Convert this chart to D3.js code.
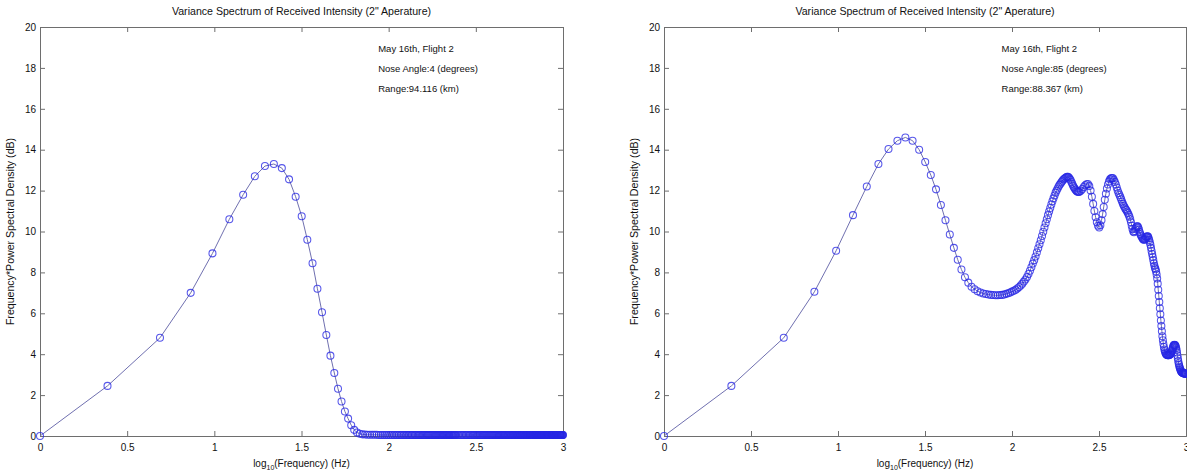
<!DOCTYPE html>
<html>
<head>
<meta charset="utf-8">
<script src="https://cdn.jsdelivr.net/npm/d3@7"></script>
<style>
  body { margin: 0; background: #fff; }
  svg { display: block; }
  text { font-family: "Liberation Sans", Arial, sans-serif; fill: #111; }
</style>
</head>
<body>
<svg id="chart" width="1187" height="473"></svg>
<script>
// spectrum bins: 410 bins over 0..1000 Hz, every bin to 100 then every other one
var binHz = 1000 / 410;
var bins = d3.range(1, 101).concat(d3.range(102, 411, 2));

var xTicks = [0, 0.5, 1, 1.5, 2, 2.5, 3];
var yTicks = [0, 2, 4, 6, 8, 10, 12, 14, 16, 18, 20];

var titleText = "Variance Spectrum of Received Intensity (2\" Aperature)";
var yLabelText = "Frequency*Power Spectral Density (dB)";

var notesNose4 = ["May 16th, Flight 2", "Nose Angle:4 (degrees)", "Range:94.116 (km)"];
var notesNose85 = ["May 16th, Flight 2", "Nose Angle:85 (degrees)", "Range:88.367 (km)"];

// f*PSD (dB): first value is the 1 Hz point, then one value per entry of bins
var psdNose4 = [0,
  2.45, 4.8, 7.0, 8.93, 10.6, 11.8, 12.7, 13.2, 13.3, 13.1,
  12.55, 11.7, 10.75, 9.6, 8.45, 7.2, 6.05, 4.94, 3.93, 3.08,
  2.31, 1.69, 1.2, 0.85, 0.53, 0.3, 0.17, 0.11, 0.08, 0.07,
  0.06, 0.06, 0.06, 0.06, 0.06, 0.05, 0.05, 0.05, 0.05, 0.05,
  0.05, 0.05, 0.05, 0.05, 0.05, 0.05, 0.05, 0.05, 0.05, 0.05,
  0.05, 0.05, 0.05, 0.05, 0.05, 0.05, 0.05, 0.05, 0.05, 0.05,
  0.05, 0.05, 0.05, 0.05, 0.05, 0.05, 0.05, 0.05, 0.05, 0.05,
  0.05, 0.05, 0.05, 0.05, 0.05, 0.05, 0.05, 0.05, 0.05, 0.05,
  0.05, 0.05, 0.05, 0.05, 0.05, 0.05, 0.05, 0.05, 0.05, 0.05,
  0.05, 0.05, 0.05, 0.05, 0.05, 0.05, 0.05, 0.05, 0.05, 0.05,
  // every other bin from 102
  0.05, 0.05, 0.05, 0.05, 0.05, 0.05, 0.05, 0.05, 0.05, 0.05,
  0.05, 0.05, 0.05, 0.05, 0.05, 0.05, 0.05, 0.05, 0.05, 0.05,
  0.05, 0.05, 0.05, 0.05, 0.05, 0.05, 0.05, 0.05, 0.05, 0.05,
  0.05, 0.05, 0.05, 0.05, 0.05, 0.05, 0.05, 0.05, 0.05, 0.05,
  0.05, 0.05, 0.05, 0.05, 0.05, 0.05, 0.05, 0.05, 0.05, 0.05,
  0.05, 0.05, 0.05, 0.05, 0.05, 0.05, 0.05, 0.05, 0.05, 0.05,
  0.05, 0.05, 0.05, 0.05, 0.05, 0.05, 0.05, 0.05, 0.05, 0.05,
  0.05, 0.05, 0.05, 0.05, 0.05, 0.05, 0.05, 0.05, 0.05, 0.05,
  0.05, 0.05, 0.05, 0.05, 0.05, 0.05, 0.05, 0.05, 0.05, 0.05,
  0.05, 0.05, 0.05, 0.05, 0.05, 0.05, 0.05, 0.05, 0.05, 0.05,
  0.05, 0.05, 0.05, 0.05, 0.05, 0.05, 0.05, 0.05, 0.05, 0.05,
  0.05, 0.05, 0.05, 0.05, 0.05, 0.05, 0.05, 0.05, 0.05, 0.05,
  0.05, 0.05, 0.05, 0.05, 0.05, 0.05, 0.05, 0.05, 0.05, 0.05,
  0.05, 0.05, 0.05, 0.05, 0.05, 0.05, 0.05, 0.05, 0.05, 0.05,
  0.05, 0.05, 0.05, 0.05, 0.05, 0.05, 0.05, 0.05, 0.05, 0.05,
  0.05, 0.05, 0.05, 0.05, 0.05
];

var psdNose85 = [0,
  2.45, 4.8, 7.05, 9.06, 10.8, 12.2, 13.3, 14.03, 14.44, 14.6,
  14.44, 14.0, 13.4, 12.76, 12.06, 11.3, 10.55, 9.85, 9.2, 8.62,
  8.14, 7.76, 7.5, 7.3, 7.18, 7.08, 7.02, 6.97, 6.94, 6.92,
  6.9, 6.89, 6.88, 6.88, 6.89, 6.9, 6.92, 6.95, 6.98, 7.02,
  7.06, 7.1, 7.15, 7.21, 7.28, 7.36, 7.45, 7.55, 7.65, 7.77,
  7.92, 8.08, 8.25, 8.43, 8.6, 8.78, 8.98, 9.18, 9.38, 9.57,
  9.78, 9.99, 10.2, 10.4, 10.6, 10.8, 10.98, 11.15, 11.32, 11.48,
  11.62, 11.76, 11.9, 12.0, 12.1, 12.2, 12.28, 12.35, 12.42, 12.48,
  12.54, 12.58, 12.62, 12.65, 12.67, 12.67, 12.64, 12.58, 12.52, 12.42,
  12.33, 12.24, 12.16, 12.1, 12.04, 11.99, 11.96, 11.94, 11.93, 11.94,
  // every other bin from 102
  11.99, 12.08, 12.18, 12.26, 12.31, 12.32, 12.22, 12.0, 11.7, 11.35,
  11.0, 10.7, 10.45, 10.28, 10.2, 10.3, 10.55, 10.85, 11.2, 11.55,
  11.85, 12.1, 12.3, 12.45, 12.55, 12.6, 12.62, 12.6, 12.52, 12.42,
  12.3, 12.15, 12.0, 11.88, 11.78, 11.68, 11.57, 11.45, 11.35, 11.26,
  11.18, 11.1, 11.05, 10.98, 10.9, 10.82, 10.72, 10.6, 10.45, 10.28,
  10.12, 10.0, 9.96, 10.02, 10.12, 10.2, 10.25, 10.25, 10.2, 10.1,
  9.98, 9.88, 9.8, 9.74, 9.68, 9.63, 9.6, 9.6, 9.62, 9.67,
  9.72, 9.76, 9.77, 9.75, 9.68, 9.58, 9.47, 9.35, 9.2, 9.05,
  8.9, 8.75, 8.6, 8.45, 8.32, 8.22, 8.15, 8.05, 7.9, 7.7,
  7.45, 7.15, 6.85, 6.55, 6.25, 5.95, 5.65, 5.38, 5.12, 4.88,
  4.68, 4.5, 4.35, 4.23, 4.14, 4.07, 4.02, 3.99, 3.97, 3.96,
  3.95, 3.95, 3.95, 3.96, 3.97, 3.99, 4.01, 4.05, 4.1, 4.16,
  4.23, 4.3, 4.37, 4.42, 4.45, 4.46, 4.45, 4.42, 4.37, 4.3,
  4.2, 4.08, 3.94, 3.8, 3.67, 3.56, 3.47, 3.39, 3.32, 3.26,
  3.21, 3.17, 3.14, 3.12, 3.1, 3.09, 3.08, 3.07, 3.07, 3.06,
  3.06, 3.05, 3.05, 3.05, 3.05
];

var freqs = [1].concat(bins.map(function(k) { return k * binHz; }));

var svg = d3.select("#chart");

function drawPanel(left, right, values, notes) {
    var top = 27, bottom = 436;

    var x = d3.scaleLinear().domain([0, 3]).range([left, right]);
    var y = d3.scaleLinear().domain([0, 20]).range([bottom, top]);

    var g = svg.append("g");

    // title
    g.append("text")
        .attr("x", (left + right) / 2)
        .attr("y", 15)
        .attr("text-anchor", "middle")
        .style("font-size", "10.6px")
        .text(titleText);

    // axes, ticks pointing inward on all four sides
    var fmt = function(d) { return String(d); };

    g.append("g")
        .attr("transform", "translate(0," + bottom + ")")
        .call(d3.axisBottom(x).tickValues(xTicks).tickSize(-5).tickPadding(8).tickFormat(fmt));
    g.append("g")
        .attr("transform", "translate(0," + top + ")")
        .call(d3.axisTop(x).tickValues(xTicks).tickSize(-5).tickFormat(""));
    g.append("g")
        .attr("transform", "translate(" + left + ",0)")
        .call(d3.axisLeft(y).tickValues(yTicks).tickSize(-5).tickPadding(4).tickFormat(fmt));
    g.append("g")
        .attr("transform", "translate(" + right + ",0)")
        .call(d3.axisRight(y).tickValues(yTicks).tickSize(-5).tickFormat(""));

    g.selectAll(".domain, .tick line")
        .attr("stroke", "#6e6e6e")
        .attr("stroke-width", 1);
    g.selectAll(".tick text")
        .attr("fill", "#111")
        .style("font-size", "10px")
        .style("font-family", "\"Liberation Sans\", Arial, sans-serif");

    // axis labels
    var xl = g.append("text")
        .attr("x", (left + right) / 2)
        .attr("y", 467)
        .attr("text-anchor", "middle")
        .style("font-size", "10px");
    xl.append("tspan").text("log");
    xl.append("tspan").attr("dy", 3).style("font-size", "7px").text("10");
    xl.append("tspan").attr("dy", -3).text("(Frequency) (Hz)");

    g.append("text")
        .attr("transform", "translate(" + (left - 26) + "," + ((top + bottom) / 2) + ") rotate(-90)")
        .attr("text-anchor", "middle")
        .style("font-size", "10.6px")
        .text(yLabelText);

    // annotation block
    g.selectAll(".note")
        .data(notes)
        .enter().append("text")
        .attr("class", "note")
        .attr("x", x(1.94))
        .attr("y", function(d, i) { return y(18.8 - i); })
        .style("font-size", "9.5px")
        .text(function(d) { return d; });

    var pts = freqs.map(function(f, i) { return { f: f, v: values[i] }; });

    var line = d3.line()
        .x(function(d) { return x(Math.log10(d.f)); })
        .y(function(d) { return y(d.v); });

    g.append("path")
        .attr("d", line(pts))
        .attr("fill", "none")
        .attr("stroke", "#7070b0")
        .attr("stroke-width", 1);

    g.selectAll(".pt")
        .data(pts)
        .enter().append("circle")
        .attr("class", "pt")
        .attr("cx", function(d) { return x(Math.log10(d.f)); })
        .attr("cy", function(d) { return y(d.v); })
        .attr("r", 3.5)
        .attr("fill", "none")
        .attr("stroke", "#2626e4")
        .attr("stroke-opacity", 0.78)
        .attr("stroke-width", 1.05);
}

drawPanel(40, 563, psdNose4, notesNose4);
drawPanel(664, 1186, psdNose85, notesNose85);
</script>
</body>
</html>
